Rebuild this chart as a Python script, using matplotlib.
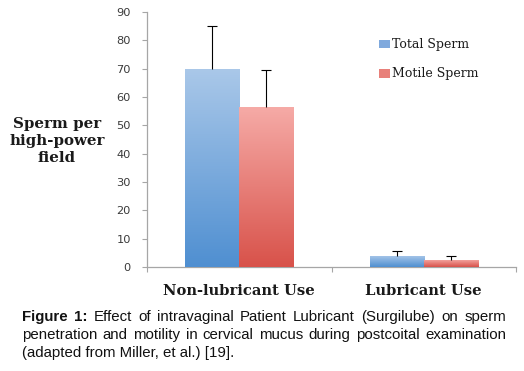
import matplotlib
matplotlib.use("Agg")
import matplotlib.pyplot as plt
import numpy as np
from matplotlib.colors import LinearSegmentedColormap
from matplotlib.patches import Patch

# ---- data ----
categories = ["Non-lubricant Use", "Lubricant Use"]
series_names = ["Total Sperm", "Motile Sperm"]
total_sperm = [70, 4]
total_err = [15, 1.5]
motile_sperm = [56.5, 2.5]
motile_err = [13, 1.3]
y_ticks = [0, 10, 20, 30, 40, 50, 60, 70, 80, 90]

W, H = 524, 371
fig = plt.figure(figsize=(W / 100, H / 100), dpi=100)

def px(x, y):
    return x / W, 1 - y / H

ax_l, ax_r, ax_t, ax_b = 147, 516, 12, 267
ax = fig.add_axes([ax_l / W, 1 - ax_b / H, (ax_r - ax_l) / W, (ax_b - ax_t) / H])

x = np.arange(len(categories))
bw = 0.293
grad = {
    "Total Sperm": ("#aac8e9", "#4f8fd1"),
    "Motile Sperm": ("#f6aba7", "#d8524a"),
}

ax.set_xlim(-0.5, 1.5)
ax.set_ylim(0, 90)

for off, vals, errs, name in [(-bw / 2, total_sperm, total_err, "Total Sperm"),
                              (bw / 2, motile_sperm, motile_err, "Motile Sperm")]:
    top, bot = grad[name]
    bars = ax.bar(x + off, vals, width=bw, color=bot, zorder=2)
    cmap = LinearSegmentedColormap.from_list(name, [bot, top])
    g = np.linspace(0, 1, 256).reshape(-1, 1)
    for b in bars:
        x0, y0 = b.get_x(), b.get_y()
        im = ax.imshow(g, cmap=cmap, origin="lower", aspect="auto",
                       extent=[x0, x0 + b.get_width(), y0, y0 + b.get_height()],
                       zorder=3, interpolation="bilinear")
        im.set_clip_path(b)
    vals_a = np.array(vals, dtype=float)
    errs_a = np.array(errs, dtype=float)
    ax.errorbar(x + off, vals_a, yerr=[np.zeros(len(vals)), errs_a], fmt="none",
                ecolor="black", elinewidth=0.8, capsize=0, zorder=4)
    ax.plot(x + off, vals_a + errs_a, linestyle="none", marker="_",
            markersize=6.6, markeredgewidth=0.8, color="black", zorder=4)

ax.set_xlim(-0.5, 1.5)
ax.set_ylim(0, 90)

for s in ["top", "right"]:
    ax.spines[s].set_visible(False)
for s in ["left", "bottom"]:
    ax.spines[s].set_color("#a6a6a6")
    ax.spines[s].set_linewidth(0.9)

ax.set_yticks(y_ticks)
ax.set_yticklabels([str(v) for v in y_ticks], fontsize=8.2, color="#3a3a3a",
                   family="DejaVu Sans")
ax.tick_params(axis="y", length=3.6, width=0.8, color="#a6a6a6", pad=8)

ax.set_xticks(x)
ax.set_xticklabels(categories, fontsize=10.6, fontweight="bold",
                   family="DejaVu Serif", color="#1a1a1a")
ax.tick_params(axis="x", which="major", length=0, pad=12)
ax.set_xticks([-0.5, 0.5, 1.5], minor=True)
ax.tick_params(axis="x", which="minor", length=3.6, width=0.8, color="#a6a6a6")

ax.set_ylabel("Sperm per\nhigh-power\nfield", rotation=0, fontsize=10.8,
              fontweight="bold", family="DejaVu Serif", color="#1a1a1a",
              ha="center", va="center", linespacing=1.3)
ax.yaxis.set_label_coords((57 - ax_l) / (ax_r - ax_l), (ax_b - 141) / (ax_b - ax_t))

handles = [Patch(facecolor="#7fa9dd", edgecolor="none"),
           Patch(facecolor="#e8807a", edgecolor="none")]
leg = fig.legend(handles, series_names, loc="upper left",
                 bbox_to_anchor=px(373, 32), frameon=False, borderpad=0,
                 handlelength=0.85, handleheight=0.7, handletextpad=0.15,
                 labelspacing=1.3, prop={"family": "DejaVu Serif", "size": 9})
for t in leg.get_texts():
    t.set_color("#1a1a1a")

# ---- caption (justified) ----
renderer = fig.canvas.get_renderer()
cap_fs = 10.8
cap_family = "Liberation Sans"
line1 = [("Figure", "bold"), ("1:", "bold"), ("Effect", "normal"), ("of", "normal"),
         ("intravaginal", "normal"), ("Patient", "normal"), ("Lubricant", "normal"),
         ("(Surgilube)", "normal"), ("on", "normal"), ("sperm", "normal")]
line2 = [(w, "normal") for w in
         "penetration and motility in cervical mucus during postcoital examination".split()]
line3 = "(adapted from Miller, et al.) [19]."
left, right = 22, 506

def justify(tokens, ycen):
    texts = []
    widths = []
    for w, wt in tokens:
        t = fig.text(0, 0, w, fontsize=cap_fs, family=cap_family, fontweight=wt,
                     va="center", ha="left", color="#111111")
        bb = t.get_window_extent(renderer)
        texts.append(t)
        widths.append(bb.width)
    gap = (right - left - sum(widths)) / (len(tokens) - 1)
    xpos = left
    for t, w in zip(texts, widths):
        t.set_position(px(xpos, ycen))
        xpos += w + gap

justify(line1, 317)
justify(line2, 335)
fig.text(*px(left, 353), line3, fontsize=cap_fs, family=cap_family,
         va="center", ha="left", color="#111111")

fig.savefig("out.png", dpi=100)
